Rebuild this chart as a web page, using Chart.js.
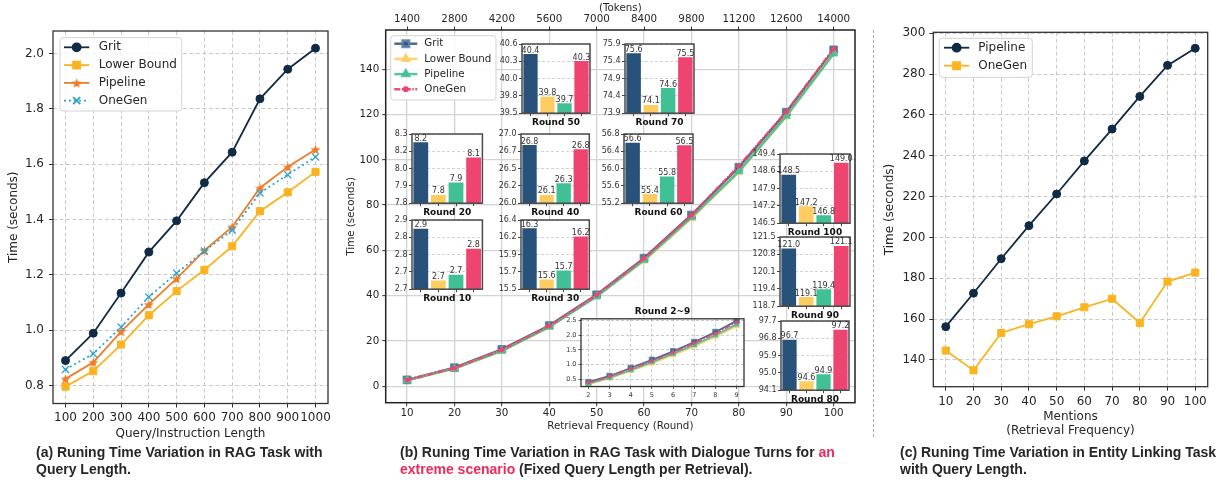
<!DOCTYPE html>
<html>
<head>
<meta charset="utf-8">
<script src="https://cdn.jsdelivr.net/npm/chart.js@4.4.1/dist/chart.umd.min.js"></script>
<style>
body{margin:0;background:#fff;width:1229px;height:482px;position:relative;overflow:hidden;font-family:"DejaVu Sans",sans-serif}
canvas{position:absolute}
.cap{position:absolute;font:bold 14px "Liberation Sans",Arial,sans-serif;color:#262626;line-height:17px;white-space:nowrap}
.hl{color:#ee2a5c}
#sep{position:absolute;left:873px;top:30px;height:407px;border-left:1px dashed #aaa}
</style>
</head>
<body>
<canvas id="chartA" width="340" height="445" style="left:0;top:0"></canvas>
<canvas id="chartB" width="530" height="445" style="left:340px;top:0"></canvas>
<canvas id="chartC" width="351" height="445" style="left:878px;top:0"></canvas>
<div id="sep"></div>
<div class="cap" style="left:36px;top:444px">(a) Runing Time Variation in RAG Task with<br>Query Length.</div>
<div class="cap" style="left:400px;top:444px">(b) Runing Time Variation in RAG Task with Dialogue Turns for <span class="hl">an</span><br><span class="hl">extreme scenario</span> (Fixed Query Length per Retrieval).</div>
<div class="cap" style="left:900px;top:444px">(c) Runing Time Variation in Entity Linking Task<br>with Query Length.</div>
<script>
// (a) query length
const queryLengths = [100, 200, 300, 400, 500, 600, 700, 800, 900, 1000];
const gritA     = [0.890, 0.989, 1.134, 1.282, 1.395, 1.533, 1.643, 1.836, 1.943, 2.019];
const lowerA    = [0.796, 0.852, 0.948, 1.054, 1.141, 1.218, 1.303, 1.430, 1.498, 1.572];
const pipelineA = [0.824, 0.884, 0.995, 1.093, 1.186, 1.288, 1.373, 1.514, 1.590, 1.653];
const onegenA   = [0.858, 0.915, 1.011, 1.120, 1.206, 1.286, 1.361, 1.496, 1.562, 1.626];
const yTicksA = [0.8, 1.0, 1.2, 1.4, 1.6, 1.8, 2.0];

// (b) dialogue turns
const rounds = [10, 20, 30, 40, 50, 60, 70, 80, 90, 100];
const tokenLabels = ['1400', '2800', '4200', '5600', '7000', '8400', '9800', '11200', '12600', '14000'];
const yTicksB = [0, 20, 40, 60, 80, 100, 120, 140];
const gritB     = [2.87, 8.22, 16.29, 26.84, 40.44, 56.60, 75.63, 96.72, 121.03, 148.53];
const lowerB    = [2.69, 7.84, 15.61, 26.12, 39.76, 55.41, 74.14, 94.56, 119.07, 147.21];
const pipelineB = [2.71, 7.93, 15.73, 26.29, 39.66, 55.82, 74.63, 94.93, 119.39, 146.83];
const onegenB   = [2.80, 8.11, 16.18, 26.78, 40.33, 56.54, 75.52, 97.24, 121.14, 149.03];

const earlyRounds = [2, 3, 4, 5, 6, 7, 8, 9];
const gritEarly     = [0.40, 0.61, 0.88, 1.16, 1.45, 1.77, 2.11, 2.49];
const lowerEarly    = [0.33, 0.53, 0.78, 1.04, 1.32, 1.62, 1.95, 2.31];
const pipelineEarly = [0.35, 0.55, 0.81, 1.08, 1.37, 1.67, 2.00, 2.37];
const onegenEarly   = [0.38, 0.59, 0.85, 1.12, 1.41, 1.73, 2.06, 2.44];
const earlyTicks = [0.5, 1.0, 1.5, 2.0, 2.5];

const insetRounds = [50, 70, 20, 40, 60, 10, 30, 100, 90, 80];
const insetMin = [39.5, 73.9, 7.78, 26.0, 55.2, 2.66, 15.48, 146.5, 118.7, 94.1];
const insetMax = [40.6, 75.9, 8.28, 27.0, 56.8, 2.90, 16.40, 149.4, 121.5, 97.7];
const insetTickLabels = [
  ['39.5', '39.8', '40.0', '40.3', '40.6'],
  ['73.9', '74.4', '74.9', '75.4', '75.9'],
  ['7.8', '7.9', '8.0', '8.2', '8.3'],
  ['26.0', '26.2', '26.5', '26.7', '27.0'],
  ['55.2', '55.6', '56.0', '56.4', '56.8'],
  ['2.7', '2.7', '2.8', '2.8', '2.9'],
  ['15.5', '15.7', '15.9', '16.2', '16.4'],
  ['146.5', '147.2', '147.9', '148.6', '149.4'],
  ['118.7', '119.4', '120.1', '120.8', '121.5'],
  ['94.1', '95.0', '95.9', '96.8', '97.7']
];

// (c) entity linking
const mentions = [10, 20, 30, 40, 50, 60, 70, 80, 90, 100];
const pipelineC = [156.3, 172.7, 189.6, 205.8, 221.3, 237.5, 253.1, 269.1, 284.3, 292.7];
const onegenC   = [144.6, 134.9, 153.2, 157.5, 161.4, 165.8, 170.0, 158.1, 178.4, 182.8];
const yTicksC = [140, 160, 180, 200, 220, 240, 260, 280, 300];

Chart.defaults.font.family = "'DejaVu Sans', sans-serif";
Chart.defaults.color = '#262626';
Chart.defaults.animation = false;
Chart.defaults.responsive = false;
Chart.defaults.plugins.legend.display = false;
Chart.defaults.plugins.tooltip.enabled = false;

const pts = (xs, ys) => xs.map((x, i) => ({x, y: ys[i]}));
const fixedTicks = values => s => { s.ticks = values.map(v => ({value: v})); };

function starImage(size, color){
    const c = document.createElement('canvas');
    c.width = c.height = size;
    const g = c.getContext('2d');
    const r = size / 2;
    g.beginPath();
    for(let k = 0; k < 10; k++){
        const a = -Math.PI / 2 + k * Math.PI / 5;
        const rr = k % 2 ? r * 0.42 : r - 0.3;
        g.lineTo(r + rr * Math.cos(a), r + 0.6 + rr * Math.sin(a));
    }
    g.closePath();
    g.fillStyle = color;
    g.fill();
    return c;
}

// plot frame on all four sides, like matplotlib spines
const frame = (color, width) => ({
    id: 'frame',
    afterDatasetsDraw(chart){
        const a = chart.chartArea, ctx = chart.ctx;
        ctx.save();
        ctx.strokeStyle = color;
        ctx.lineWidth = width;
        ctx.strokeRect(a.left, a.top, a.right - a.left, a.bottom - a.top);
        ctx.restore();
    }
});

const whiteBg = {
    id: 'whiteBg',
    beforeDraw(chart){
        const a = chart.chartArea, ctx = chart.ctx;
        ctx.save();
        ctx.fillStyle = '#fff';
        ctx.fillRect(a.left, a.top, a.right - a.left, a.bottom - a.top);
        ctx.restore();
    }
};

const barLabels = {
    id: 'barLabels',
    afterDatasetsDraw(chart){
        const ctx = chart.ctx;
        const vals = chart.data.datasets[0].data;
        ctx.save();
        ctx.font = '8px "DejaVu Sans"';
        ctx.fillStyle = '#333';
        ctx.textAlign = 'center';
        ctx.textBaseline = 'bottom';
        chart.getDatasetMeta(0).data.forEach((bar, i) => {
            ctx.fillText(vals[i].toFixed(1), bar.x, bar.y + 0.5);
        });
        ctx.restore();
    }
};

// legend in a rounded box, drawn from the datasets' own styles
const boxLegend = cfg => ({
    id: 'boxLegend',
    afterDraw(chart){
        const ctx = chart.ctx;
        ctx.save();
        ctx.beginPath();
        if(ctx.roundRect) ctx.roundRect(cfg.x, cfg.y, cfg.w, cfg.h, 3);
        else ctx.rect(cfg.x, cfg.y, cfg.w, cfg.h);
        ctx.fillStyle = 'rgba(255,255,255,0.85)';
        ctx.fill();
        ctx.strokeStyle = '#d3d3d3';
        ctx.lineWidth = 1;
        ctx.stroke();
        ctx.font = cfg.font + 'px "DejaVu Sans"';
        ctx.textBaseline = 'middle';
        ctx.textAlign = 'left';
        chart.data.datasets.forEach((ds, i) => {
            const cy = cfg.y + cfg.first + i * cfg.row;
            ctx.strokeStyle = ds.borderColor;
            ctx.lineWidth = ds.borderWidth;
            ctx.setLineDash(ds.borderDash || []);
            ctx.beginPath();
            ctx.moveTo(cfg.x + cfg.lx0, cy);
            ctx.lineTo(cfg.x + cfg.lx1, cy);
            ctx.stroke();
            ctx.setLineDash([]);
            ctx.fillStyle = ds.pointBackgroundColor;
            ctx.strokeStyle = ds.pointBorderColor;
            Chart.helpers.drawPoint(ctx, {
                pointStyle: ds.pointStyle,
                radius: cfg.markerScale ? ds.pointRadius * cfg.markerScale : ds.pointRadius,
                borderWidth: ds.pointBorderWidth,
                rotation: 0
            }, cfg.x + (cfg.lx0 + cfg.lx1) / 2, cy);
            ctx.fillStyle = '#262626';
            ctx.fillText(ds.label, cfg.x + cfg.tx, cy);
        });
        ctx.restore();
    }
});

const dashedGrid = {color: '#bdbdbd', lineWidth: 0.8, tickLength: 4, tickColor: '#333', tickWidth: 1, tickBorderDash: []};
const dashedBorder = {display: false, dash: [4, 2.5]};

/* ---------- (a) ---------- */
const navy = '#0f2b46', amber = '#fbb320', orange = '#f07c28', cyan = '#2ba5cc';

new Chart(document.getElementById('chartA'), {
    type: 'line',
    data: {
        datasets: [
            {label: 'Grit', data: pts(queryLengths, gritA), borderColor: navy, borderWidth: 1.8,
             pointStyle: 'circle', pointRadius: 4, pointBackgroundColor: navy, pointBorderColor: navy, pointBorderWidth: 1, order: 4},
            {label: 'Lower Bound', data: pts(queryLengths, lowerA), borderColor: amber, borderWidth: 1.8,
             pointStyle: 'rect', pointRadius: 5, pointBackgroundColor: amber, pointBorderColor: amber, pointBorderWidth: 1, order: 3},
            {label: 'Pipeline', data: pts(queryLengths, pipelineA), borderColor: orange, borderWidth: 1.8,
             pointStyle: starImage(11, orange), pointRadius: 5, pointBackgroundColor: orange, pointBorderColor: orange, pointBorderWidth: 0, order: 2},
            {label: 'OneGen', data: pts(queryLengths, onegenA), borderColor: cyan, borderWidth: 1.8, borderDash: [2, 3],
             pointStyle: 'crossRot', pointRadius: 5, pointBackgroundColor: cyan, pointBorderColor: cyan, pointBorderWidth: 1.3, order: 1}
        ]
    },
    options: {
        layout: {padding: {top: 31, right: 12, left: 0, bottom: 0}},
        scales: {
            x: {
                type: 'linear', min: 55, max: 1045,
                afterBuildTicks: fixedTicks(queryLengths),
                afterFit: s => { s.height = 41.5; },
                ticks: {autoSkip: false, maxRotation: 0, font: {size: 12}, padding: 3, callback: v => String(v)},
                grid: dashedGrid, border: dashedBorder,
                title: {display: true, text: 'Query/Instruction Length', font: {size: 12}, padding: {top: 4, bottom: 4}}
            },
            y: {
                min: 0.735, max: 2.081,
                afterBuildTicks: fixedTicks(yTicksA),
                afterFit: s => { s.width = 53; },
                ticks: {font: {size: 12}, padding: 5, callback: v => v.toFixed(1)},
                grid: dashedGrid, border: dashedBorder,
                title: {display: true, text: 'Time (seconds)', font: {size: 12}, padding: {top: 7, bottom: 0}}
            }
        }
    },
    plugins: [frame('#333', 1.3),
              boxLegend({x: 60, y: 37.7, w: 121.7, h: 73.3, first: 9.6, row: 17.8, lx0: 4, lx1: 29.3, tx: 38.7, font: 12})]
});

/* ---------- (b) ---------- */
const gritCol = '#28527a', lowerCol = '#fdcd62', pipeCol = '#42c095', oneCol = '#ee4570';
const barColors = [gritCol, lowerCol, pipeCol, oneCol];

function dialogueSets(g, l, p, o, xs, big){
    const k = big ? 1 : 0.7;
    return [
        {label: 'Grit', data: pts(xs, g), borderColor: 'rgba(40,82,122,0.85)', borderWidth: 2.5 * k,
         pointStyle: 'rect', pointRadius: 5.5 * k, pointBackgroundColor: 'rgba(40,82,122,0.8)',
         pointBorderColor: 'rgba(95,130,170,0.9)', pointBorderWidth: 1, order: 4},
        {label: 'Lower Bound', data: pts(xs, l), borderColor: 'rgba(253,205,98,0.9)', borderWidth: 2.5 * k,
         pointStyle: 'triangle', pointRadius: 4.5 * k, pointBackgroundColor: 'rgba(253,205,98,0.9)',
         pointBorderColor: 'rgba(253,205,98,0.9)', pointBorderWidth: 1, order: 3},
        {label: 'Pipeline', data: pts(xs, p), borderColor: 'rgba(66,192,149,0.9)', borderWidth: 2.5 * k,
         pointStyle: 'triangle', pointRadius: 4.5 * k, pointBackgroundColor: 'rgba(66,192,149,0.9)',
         pointBorderColor: 'rgba(66,192,149,0.9)', pointBorderWidth: 1, order: 2},
        {label: 'OneGen', data: pts(xs, o), borderColor: 'rgba(238,69,112,0.95)', borderWidth: 2.5 * k,
         borderDash: [6, 1.5, 1.5, 1.5],
         pointStyle: 'circle', pointRadius: 2 * k, pointBackgroundColor: 'rgba(238,69,112,1)',
         pointBorderColor: 'rgba(238,69,112,1)', pointBorderWidth: 1, order: 1}
    ];
}

const solidGrid = {color: '#d3d3d3', lineWidth: 1.3, tickLength: 3.5, tickColor: '#333', tickWidth: 1, tickBorderDash: []};

new Chart(document.getElementById('chartB'), {
    type: 'line',
    data: {datasets: dialogueSets(gritB, lowerB, pipelineB, onegenB, rounds, true)},
    options: {
        layout: {padding: {top: 0, right: 15, left: 0, bottom: 8.8}},
        scales: {
            x: {
                type: 'linear', min: 5.5, max: 104.5,
                afterBuildTicks: fixedTicks(rounds),
                afterFit: s => { s.height = 33.5; },
                ticks: {autoSkip: false, maxRotation: 0, font: {size: 10.3}, padding: 1, callback: v => String(v)},
                grid: solidGrid, border: {display: false},
                title: {display: true, text: 'Retrieval Frequency (Round)', font: {size: 10.3}, padding: {top: 2, bottom: 4}}
            },
            x2: {
                type: 'linear', position: 'top', min: 5.5, max: 104.5,
                afterBuildTicks: fixedTicks(rounds),
                afterFit: s => { s.height = 30; },
                ticks: {autoSkip: false, maxRotation: 0, font: {size: 10.3}, padding: 0.5, callback: (v, i) => tokenLabels[i]},
                grid: {drawOnChartArea: false, tickLength: 3.5, tickColor: '#333', tickWidth: 1}, border: {display: false},
                title: {display: true, text: '(Tokens)', font: {size: 10.3}, padding: {top: 2, bottom: 0}}
            },
            y: {
                min: -7.2, max: 157.3,
                afterBuildTicks: fixedTicks(yTicksB),
                afterFit: s => { s.width = 45.7; },
                ticks: {font: {size: 10.3}, padding: 3, callback: v => String(v)},
                grid: solidGrid, border: {display: false},
                title: {display: true, text: 'Time (seconds)', font: {size: 10.3}, padding: {top: 5.5, bottom: 0}}
            }
        }
    },
    plugins: [frame('#222', 1.5),
              boxLegend({x: 50.7, y: 35.7, w: 105.3, h: 64.3, first: 8, row: 15.2, lx0: 3.6, lx1: 26.6, tx: 33.6, font: 10.3, markerScale: 0.85})]
});

// inset bar charts, boxes as [left, top, width, height] on the page
const insetBoxes = [
    [522, 44, 68, 65.3], [624.5, 44.3, 69, 65.7],
    [412.3, 134, 70.4, 65.3], [521, 134, 68.3, 65.3], [624.3, 134, 69, 65.3],
    [412.3, 220, 70.4, 66], [521, 220, 68.3, 66],
    [780, 154, 70, 65.3], [780, 237.3, 70, 65.4], [781, 320.7, 68, 65.3]
];
const methodNames = ['Grit', 'Lower Bound', 'Pipeline', 'OneGen'];

insetRounds.forEach((r, k) => {
    const [bx, by, bw, bh] = insetBoxes[k];
    const idx = rounds.indexOf(r);
    const axisW = 28, padTop = 7, axisH = 3;
    const c = document.createElement('canvas');
    c.width = Math.ceil(axisW + bw + 3);
    c.height = Math.ceil(padTop + bh + axisH + 15);
    c.style.left = (bx - axisW) + 'px';
    c.style.top = (by - padTop) + 'px';
    document.body.appendChild(c);
    const lo = insetMin[k], hi = insetMax[k];
    const tickVals = [0, 1, 2, 3, 4].map(j => lo + j * (hi - lo) / 4);
    new Chart(c, {
        type: 'bar',
        data: {
            labels: methodNames,
            datasets: [{data: [gritB[idx], lowerB[idx], pipelineB[idx], onegenB[idx]],
                        backgroundColor: barColors, barPercentage: 0.84, categoryPercentage: 1}]
        },
        options: {
            layout: {padding: {top: padTop, left: 0, right: c.width - axisW - bw, bottom: 0}},
            scales: {
                x: {
                    afterFit: s => { s.height = axisH; },
                    ticks: {display: false},
                    grid: {drawOnChartArea: false, offset: false, tickLength: 3, tickColor: '#444', tickWidth: 1},
                    border: {display: false}
                },
                y: {
                    min: lo, max: hi,
                    afterBuildTicks: fixedTicks(tickVals),
                    afterFit: s => { s.width = axisW; },
                    ticks: {font: {size: 8}, padding: 1.5, color: '#333', callback: (v, i) => insetTickLabels[k][i]},
                    grid: {color: '#c8c8c8', lineWidth: 0.8, tickLength: 3, tickColor: '#444', tickWidth: 1, tickBorderDash: []},
                    border: {display: false, dash: [3, 2]}
                }
            },
            plugins: {
                title: {display: true, position: 'bottom', fullSize: false, text: 'Round ' + r,
                        font: {size: 9, weight: 'bold'}, color: '#111', padding: {top: 1, bottom: 0}}
            }
        },
        plugins: [whiteBg, frame('#4a4a4a', 1.5), barLabels]
    });
});

// inset line chart for rounds 2~9
(function(){
    const bx = 580.7, by = 319, bw = 164.3, bh = 67.7;
    const axisW = 18, titleH = 14.8, axisH = 13;
    const c = document.createElement('canvas');
    c.width = Math.ceil(axisW + bw + 3);
    c.height = Math.ceil(titleH + bh + axisH + 1);
    c.style.left = (bx - axisW) + 'px';
    c.style.top = (by - titleH) + 'px';
    document.body.appendChild(c);
    const insetGrid = {color: '#bdbdbd', lineWidth: 0.8, tickLength: 2.5, tickColor: '#333', tickWidth: 0.8, tickBorderDash: []};
    new Chart(c, {
        type: 'line',
        data: {datasets: dialogueSets(gritEarly, lowerEarly, pipelineEarly, onegenEarly, earlyRounds, false)},
        options: {
            layout: {padding: {top: 0, left: 0, right: c.width - axisW - bw, bottom: c.height - titleH - bh - axisH}},
            scales: {
                x: {
                    type: 'linear', min: 1.65, max: 9.35,
                    afterBuildTicks: fixedTicks(earlyRounds),
                    afterFit: s => { s.height = axisH; },
                    ticks: {autoSkip: false, maxRotation: 0, font: {size: 6.5}, padding: 2, color: '#333', callback: v => String(v)},
                    grid: insetGrid, border: {display: false, dash: [3, 2]}
                },
                y: {
                    min: 0.25, max: 2.56,
                    afterBuildTicks: fixedTicks(earlyTicks),
                    afterFit: s => { s.width = axisW; },
                    ticks: {font: {size: 6.5}, padding: 2, color: '#333', callback: v => v.toFixed(1)},
                    grid: insetGrid, border: {display: false, dash: [3, 2]}
                }
            },
            plugins: {
                title: {display: true, position: 'top', fullSize: false, text: 'Round 2~9',
                        font: {size: 9, weight: 'bold'}, color: '#111', padding: {top: 2, bottom: 2}}
            }
        },
        plugins: [whiteBg, frame('#333', 1.3)]
    });
})();

/* ---------- (c) ---------- */
new Chart(document.getElementById('chartC'), {
    type: 'line',
    data: {
        datasets: [
            {label: 'Pipeline', data: pts(mentions, pipelineC), borderColor: navy, borderWidth: 1.8,
             pointStyle: 'circle', pointRadius: 4, pointBackgroundColor: navy, pointBorderColor: navy, pointBorderWidth: 1, order: 2},
            {label: 'OneGen', data: pts(mentions, onegenC), borderColor: amber, borderWidth: 1.8,
             pointStyle: 'rect', pointRadius: 5, pointBackgroundColor: amber, pointBorderColor: amber, pointBorderWidth: 1, order: 1}
        ]
    },
    options: {
        layout: {padding: {top: 32.3, right: 21.3, left: 0, bottom: 2.8}},
        scales: {
            x: {
                type: 'linear', min: 5.5, max: 104.5,
                afterBuildTicks: fixedTicks(mentions),
                afterFit: s => { s.height = 55.5; },
                ticks: {autoSkip: false, maxRotation: 0, font: {size: 12}, padding: 3.5, callback: v => String(v)},
                grid: dashedGrid, border: dashedBorder,
                title: {display: true, text: ['Mentions', '(Retrieval Frequency)'], font: {size: 12}, padding: {top: 2, bottom: 4}}
            },
            y: {
                min: 126.9, max: 300.5,
                afterBuildTicks: fixedTicks(yTicksC),
                afterFit: s => { s.width = 55.3; },
                ticks: {font: {size: 12}, padding: 4, callback: v => String(v)},
                grid: dashedGrid, border: dashedBorder,
                title: {display: true, text: 'Time (seconds)', font: {size: 12}, padding: {top: 4.8, bottom: 0}}
            }
        }
    },
    plugins: [frame('#333', 1.3),
              boxLegend({x: 61.3, y: 38.3, w: 93, h: 39, first: 9.4, row: 18, lx0: 4.7, lx1: 30, tx: 39, font: 12})]
});
</script>
</body>
</html>
